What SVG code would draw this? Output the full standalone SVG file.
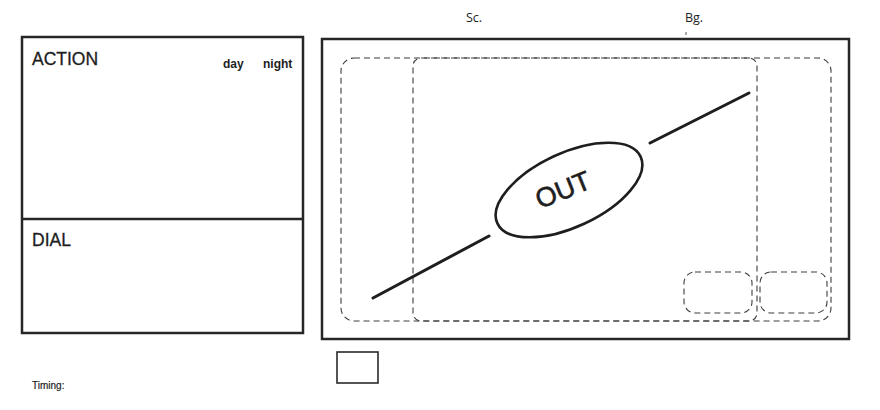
<svg xmlns="http://www.w3.org/2000/svg" width="880" height="410" viewBox="0 0 880 410">
<style>
.frame{fill:none;stroke:#262626;stroke-width:2.5}
.dash{fill:none;stroke:#3c3c3c;stroke-width:1.1;stroke-dasharray:6 4}
.ink{fill:none;stroke:#1e1e1e;stroke-width:3;stroke-linecap:round}
.lbl{font-family:"Liberation Sans",Arial,sans-serif;fill:#1e1e1e}
.hd{font-family:"Open Sans","Liberation Sans",sans-serif;fill:#1e1e1e;font-size:12.5px}
</style>
<rect width="880" height="410" fill="#ffffff"/>
<g id="header">
<text class="hd" x="466" y="22">Sc.</text>
<text class="hd" x="685" y="22">Bg.</text>
<line x1="686" y1="32" x2="686" y2="35" stroke="#555" stroke-width="1"/>
</g>
<g id="script-panel">
<rect class="frame" x="22" y="37" width="281" height="296"/>
<line class="frame" x1="22" y1="219" x2="303" y2="219"/>
<text class="lbl" x="32" y="65" font-size="17.5" stroke="#1e1e1e" stroke-width="0.3">ACTION</text>
<text class="lbl" x="223" y="68" font-size="12" font-weight="bold">day</text>
<text class="lbl" x="263" y="68" font-size="12" font-weight="bold">night</text>
<text class="lbl" x="32" y="246" font-size="17.5" stroke="#1e1e1e" stroke-width="0.3">DIAL</text>
<text class="lbl" x="32" y="389" font-size="10" stroke="#1e1e1e" stroke-width="0.2">Timing:</text>
</g>
<g id="frame-panel">
<rect class="frame" x="322" y="39" width="527" height="300"/>
<rect class="dash" x="341" y="58" width="490" height="263" rx="13"/>
<rect class="dash" x="413" y="58" width="344" height="263" rx="8"/>
<rect class="dash" x="684" y="272" width="68" height="41" rx="11"/>
<rect class="dash" x="760" y="272" width="67" height="41" rx="11"/>
</g>
<g id="connectors">
<line class="ink" x1="373" y1="298" x2="489" y2="236"/>
<line class="ink" x1="650" y1="143" x2="749" y2="93"/>
</g>
<g id="out-node">
<ellipse cx="569" cy="190" rx="79" ry="37" transform="rotate(-25 569 190)" fill="none" stroke="#1e1e1e" stroke-width="2.6"/>
<text x="563" y="199" font-family="'Liberation Sans',Arial,sans-serif" font-size="27" text-anchor="middle" fill="#1e1e1e" stroke="#1e1e1e" stroke-width="0.6" transform="rotate(-22 563 190)">OUT</text>
</g>
<g id="timing-box">
<rect x="337" y="352" width="41" height="31" fill="none" stroke="#2a2a2a" stroke-width="1.6"/>
</g>
</svg>
